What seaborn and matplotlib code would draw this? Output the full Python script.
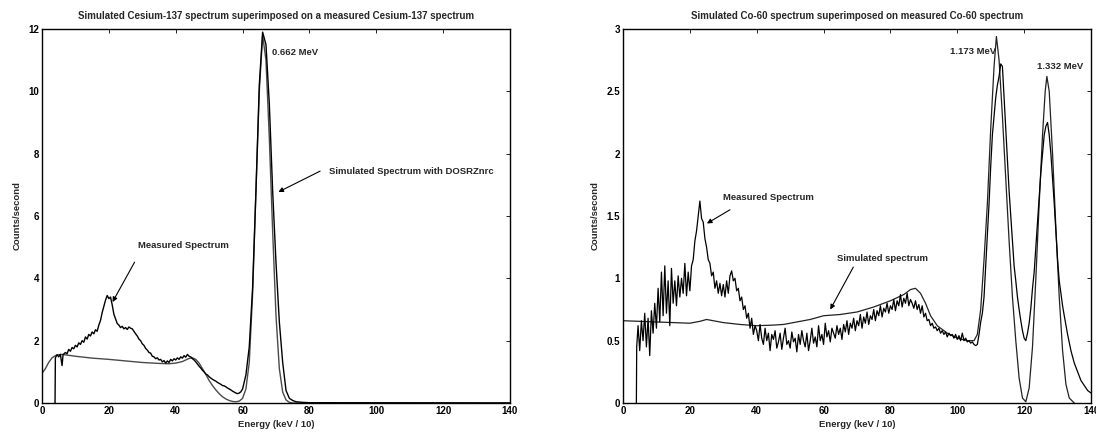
import matplotlib
matplotlib.use("Agg")
import matplotlib.pyplot as plt
from matplotlib.ticker import FuncFormatter
import seaborn as sns

# ---------------- Cs-137 data ----------------
cs_meas_e = [3.9, 4.0, 4.5, 5.0, 5.5, 6.0, 6.3, 7.0, 7.5, 8.0, 8.5, 9.0, 9.5, 10.0, 10.5, 11.0, 11.5,
             12.0, 12.5, 13.0, 13.5, 14.0, 14.5, 15.0, 15.5, 16.0, 16.5, 17.0, 17.5, 18.0, 18.5, 19.0,
             19.5, 20.0, 20.5, 21.0, 21.5, 22.0, 22.5, 23.0, 23.5, 24.0, 24.5, 25.0, 25.5, 26.0, 26.5,
             27.0, 27.5, 28.0, 28.5, 29.0, 29.5, 30.0, 30.5, 31.0, 31.5, 32.0, 32.5, 33.0, 33.5, 34.0,
             34.5, 35.0, 35.5, 36.0, 36.5, 37.0, 37.5, 38.0, 38.5, 39.0, 39.5, 40.0, 40.5, 41.0, 41.5,
             42.0, 42.5, 43.0, 43.5, 44.0, 44.5, 45.0, 45.5, 46.0, 46.5, 47.0, 47.5, 48.0, 48.5, 49.0,
             49.5, 50.0, 50.5, 51.0, 51.5, 52.0, 52.5, 53.0, 53.5, 54.0, 54.5, 55.0, 55.5, 56.0, 56.5,
             57.0, 57.5, 58.0, 58.5, 59.0, 59.5, 60.0, 61.0, 62.0, 63.0, 64.0, 65.0, 66.0, 67.0, 68.0,
             69.0, 70.0, 71.0, 72.0, 73.0, 74.0, 75.0, 76.0, 78.0, 80.0, 140.0]
cs_meas_c = [0.0, 1.45, 1.55, 1.48, 1.56, 1.2, 1.55, 1.62, 1.58, 1.72, 1.66, 1.78, 1.74, 1.85, 1.8, 1.93, 1.88,
             2.0, 1.95, 2.12, 2.05, 2.2, 2.15, 2.28, 2.22, 2.35, 2.3, 2.5, 2.65, 2.9, 3.1, 3.3,
             3.45, 3.35, 3.4, 3.15, 2.85, 2.7, 2.55, 2.5, 2.42, 2.46, 2.38, 2.42, 2.36, 2.44, 2.4,
             2.38, 2.3, 2.22, 2.15, 2.05, 2.0, 1.9, 1.85, 1.75, 1.7, 1.62, 1.6, 1.5, 1.48, 1.42,
             1.45, 1.38, 1.4, 1.32, 1.36, 1.28, 1.35, 1.3, 1.4, 1.35, 1.42, 1.38, 1.45, 1.4, 1.48,
             1.44, 1.52, 1.47, 1.56, 1.5, 1.48, 1.42, 1.38, 1.32, 1.25, 1.18, 1.12, 1.05, 1.0, 0.93,
             0.9, 0.84, 0.8, 0.76, 0.73, 0.7, 0.66, 0.63, 0.6, 0.56, 0.55, 0.52, 0.48, 0.45, 0.42,
             0.38, 0.35, 0.32, 0.3, 0.32, 0.36, 0.45, 0.9, 1.8, 3.7, 6.8, 10.2, 11.9, 11.5, 9.6,
             6.8, 4.5, 2.6, 1.3, 0.4, 0.15, 0.08, 0.04, 0.02, 0.01, 0.0]

cs_sim_e = [0, 1, 2, 3, 4, 5, 6, 8, 10, 15, 20, 25, 30, 35, 38, 40, 42, 44, 45, 46, 47, 48, 49, 50,
            51, 52, 53, 54, 55, 56, 57, 58, 59, 60, 61, 62, 63, 64, 65, 66, 67, 68, 69, 70, 71, 72,
            73, 74, 75, 140]
cs_sim_c = [0.95, 1.1, 1.3, 1.45, 1.52, 1.55, 1.56, 1.53, 1.5, 1.44, 1.4, 1.35, 1.3, 1.27, 1.26, 1.28,
            1.33, 1.43, 1.45, 1.4, 1.28, 1.1, 0.92, 0.72, 0.56, 0.42, 0.3, 0.2, 0.13, 0.08, 0.05, 0.04,
            0.06, 0.15, 0.45, 1.3, 3.5, 6.8, 10.0, 11.8, 11.0, 8.5, 5.5, 2.8, 1.1, 0.35, 0.1, 0.02, 0.0, 0.0]

# ---------------- Co-60 data ----------------
co_meas_e = [4.0, 4.1,
             4.5, 5.0, 5.5, 6.0, 6.5, 7.0, 7.5, 8.0, 8.5, 9.0,
             9.5, 10.0, 10.5, 11.0, 11.5, 12.0, 12.5, 13.0, 13.5, 14.0,
             14.5, 15.0, 15.5, 16.0, 16.5, 17.0, 17.5, 18.0, 18.5, 19.0,
             19.5, 20.0, 20.5, 21.0, 21.5, 22.0, 22.5, 23.0, 23.5, 24.0,
             24.5, 25.0, 25.5, 26.0, 26.5, 27.0, 27.5, 28.0, 28.5, 29.0,
             29.5, 30.0, 30.5, 31.0, 31.5, 32.0, 32.5, 33.0, 33.5, 34.0,
             34.5, 35.0, 35.5, 36.0, 36.5, 37.0, 37.5,
             38.0, 38.5, 39.0, 39.5, 40.0, 40.5, 41.0, 41.5, 42.0, 42.5,
             43.0, 43.5, 44.0, 44.5, 45.0, 45.5, 46.0, 46.5, 47.0, 47.5,
             48.0, 48.5, 49.0, 49.5, 50.0, 50.5, 51.0, 51.5, 52.0, 52.5,
             53.0, 53.5, 54.0, 54.5, 55.0, 55.5, 56.0, 56.5, 57.0, 57.5,
             58.0, 58.5, 59.0, 59.5, 60.0, 60.5, 61.0, 61.5, 62.0, 62.5,
             63.0, 63.5, 64.0, 64.5, 65.0, 65.5, 66.0, 66.5, 67.0, 67.5,
             68.0, 68.5, 69.0, 69.5, 70.0, 70.5, 71.0, 71.5, 72.0, 72.5,
             73.0, 73.5, 74.0, 74.5, 75.0, 75.5, 76.0, 76.5, 77.0, 77.5,
             78.0, 78.5, 79.0, 79.5, 80.0, 80.5, 81.0, 81.5, 82.0, 82.5,
             83.0, 83.5, 84.0, 84.5, 85.0, 85.5, 86.0, 86.5, 87.0, 87.5,
             88.0, 88.5, 89.0, 89.5, 90.0,
             90.5, 91.0, 91.5, 92.0, 92.5, 93.0, 93.5, 94.0, 94.5, 95.0,
             95.5, 96.0, 96.5, 97.0, 97.5, 98.0, 98.5, 99.0, 99.5, 100.0,
             100.5, 101.0, 101.5, 102.0, 102.5, 103.0, 103.5, 104.0, 104.5, 105.0,
             105.5, 106.0,
             106.5, 107.0, 107.5, 108.0, 108.5, 109.0, 109.5, 110.0, 110.5, 111.0,
             111.5, 112.0, 112.5, 113.0, 113.5, 114.0, 114.5, 115.0, 115.5, 116.0,
             116.5, 117.0, 117.5, 118.0, 118.5, 119.0, 119.5, 120.0, 120.5, 121.0,
             121.5, 122.0, 122.5, 123.0, 123.5, 124.0, 124.5, 125.0, 125.5, 126.0,
             126.5, 127.0, 127.5, 128.0, 128.5, 129.0, 129.5, 130.0, 130.5, 131.0,
             131.5, 132.0,
             133.0, 134.0, 135.0, 136.0, 137.0, 138.0, 139.0, 140.0]
co_meas_c = [0.0, 0.45,
             0.62, 0.42, 0.66, 0.5, 0.72, 0.45, 0.68, 0.38, 0.74, 0.56,
             0.8, 0.6, 0.92, 0.65, 1.05, 0.7, 1.1, 0.72, 0.98, 0.62,
             1.08, 0.8, 0.98, 0.78, 1.02, 0.85, 1.0, 0.88, 1.12, 0.86,
             1.05, 0.9, 1.1, 1.15, 1.3, 1.38, 1.5, 1.62, 1.48, 1.45,
             1.32, 1.25, 1.15, 1.12, 1.02, 1.05, 0.92, 0.98, 0.88, 0.96,
             0.86, 0.95, 0.85, 0.98, 0.88, 1.02, 1.06, 0.98, 1.0, 0.9,
             0.92, 0.82, 0.85, 0.75, 0.78, 0.68, 0.72,
             0.6, 0.68, 0.55, 0.62, 0.58, 0.5, 0.63, 0.52, 0.47, 0.6,
             0.5, 0.56, 0.42, 0.55, 0.51, 0.58, 0.44, 0.49, 0.56, 0.43,
             0.52, 0.6, 0.47, 0.5, 0.44, 0.57, 0.49, 0.52, 0.41, 0.55,
             0.47, 0.58, 0.5, 0.45, 0.56, 0.42, 0.5, 0.6, 0.48, 0.53,
             0.45, 0.62, 0.5, 0.55, 0.47, 0.64, 0.53, 0.58, 0.49, 0.6,
             0.56, 0.52, 0.62, 0.55, 0.6, 0.51, 0.63, 0.57, 0.66, 0.55,
             0.64, 0.6, 0.68, 0.58, 0.66, 0.62, 0.71, 0.6, 0.69, 0.64,
             0.73, 0.63, 0.7, 0.67, 0.75, 0.66, 0.74, 0.7, 0.78, 0.69,
             0.76, 0.73, 0.8, 0.72, 0.78, 0.75, 0.83, 0.74, 0.82, 0.78,
             0.87, 0.77, 0.84, 0.8, 0.88, 0.78, 0.83, 0.8, 0.76, 0.82,
             0.75, 0.79, 0.72, 0.78, 0.69,
             0.72, 0.66, 0.67, 0.62, 0.64, 0.6, 0.61, 0.58, 0.6, 0.56,
             0.58, 0.55, 0.57, 0.53, 0.56, 0.54, 0.55, 0.52, 0.55, 0.51,
             0.54, 0.5, 0.56, 0.5, 0.52, 0.49, 0.5, 0.48, 0.49, 0.47,
             0.46, 0.47,
             0.55, 0.65, 0.72, 0.85, 1.1, 1.35, 1.6, 1.9, 2.15, 2.3,
             2.45, 2.55, 2.62, 2.72, 2.7, 2.45, 2.2, 1.95, 1.7, 1.5,
             1.3, 1.1, 0.98, 0.85, 0.75, 0.66, 0.58, 0.52, 0.5, 0.56,
             0.64, 0.76, 0.92, 1.05, 1.25, 1.45, 1.65, 1.85, 2.0, 2.15,
             2.22, 2.25, 2.15, 2.0, 1.8, 1.6, 1.38, 1.15, 0.98, 0.88,
             0.78, 0.7,
             0.55, 0.42, 0.32, 0.25, 0.18, 0.14, 0.1, 0.08]

co_sim_e = [0, 5, 10, 15, 20, 23, 25, 27, 30, 35, 40, 45, 48, 52, 56, 60, 65, 70, 75, 80, 84, 86, 87.5,
            89, 90.5, 92, 94, 97, 100, 103, 105, 106, 107, 108, 109, 110, 111, 111.7, 112.5, 113.5,
            114.5, 115.5, 116.5, 117.5, 118.5, 119.5, 120.5, 121.5, 122.5, 123.5, 124.5, 125.5, 126.3,
            126.8, 127.5, 128.5, 129.5, 130.5, 131.5, 132.5, 133.5, 135.0]
co_sim_c = [0.66, 0.655, 0.65, 0.645, 0.64, 0.655, 0.67, 0.66, 0.645, 0.63, 0.62, 0.625, 0.63, 0.65, 0.67,
            0.7, 0.71, 0.73, 0.77, 0.82, 0.87, 0.91, 0.92, 0.88, 0.8, 0.7, 0.62, 0.56, 0.52, 0.5, 0.5,
            0.55, 0.75, 1.15, 1.6, 2.2, 2.7, 2.94, 2.75, 2.3, 1.8, 1.3, 0.85, 0.5, 0.2, 0.04, 0.01,
            0.12, 0.45, 1.0, 1.6, 2.15, 2.5, 2.62, 2.5, 2.0, 1.4, 0.85, 0.42, 0.15, 0.04, 0.0]

cs_yticks = [0, 2, 4, 6, 8, 10, 12]
co_yticks = [0, 0.5, 1, 1.5, 2, 2.5, 3]
x_ticks = [0, 20, 40, 60, 80, 100, 120, 140]

sns.set_style("white")
plt.rcParams['font.family'] = ['Liberation Sans', 'DejaVu Sans']
plt.rcParams['font.weight'] = 'bold'

W, H = 1096, 440
fig = plt.figure(figsize=(W / 100, H / 100), dpi=100)
fig.patch.set_facecolor('white')

ax1 = fig.add_axes([42 / W, 1 - 403 / H, 468 / W, 374 / H])
ax2 = fig.add_axes([623 / W, 1 - 403 / H, 468 / W, 374 / H])

fmt = FuncFormatter(lambda v, p: ('%g' % v))

sns.lineplot(x=cs_sim_e, y=cs_sim_c, ax=ax1, estimator=None, sort=False, color='#4a4a4a', lw=1.0)
sns.lineplot(x=cs_meas_e, y=cs_meas_c, ax=ax1, estimator=None, sort=False, color='black', lw=1.0)
sns.lineplot(x=co_sim_e, y=co_sim_c, ax=ax2, estimator=None, sort=False, color='#222222', lw=0.9)
sns.lineplot(x=co_meas_e, y=co_meas_c, ax=ax2, estimator=None, sort=False, color='black', lw=0.9)

for ax, yt, ymax in [(ax1, cs_yticks, 12), (ax2, co_yticks, 3)]:
    ax.set_xlim(0, 140)
    ax.set_ylim(0, ymax)
    ax.set_xticks(x_ticks)
    ax.set_yticks(yt)
    ax.xaxis.set_major_formatter(fmt)
    ax.yaxis.set_major_formatter(fmt)
    ax.tick_params(direction='in', length=3, width=0.6, top=True, right=True,
                   labelsize=7, pad=2, colors='black')
    for s in ax.spines.values():
        s.set_visible(True)
        s.set_color('black')
        s.set_linewidth(1.0)
    ax.set_xlabel('Energy (keV / 10)', fontsize=6.8, fontweight='bold', labelpad=3)
    ax.set_ylabel('Counts/second', fontsize=6.8, fontweight='bold', labelpad=5)
    ax.set_facecolor('white')
    ax.grid(False)

ax1.set_title('Simulated Cesium-137 spectrum superimposed on a measured Cesium-137 spectrum',
              fontsize=7, fontweight='bold', pad=7)
ax2.set_title('Simulated Co-60 spectrum superimposed on measured Co-60 spectrum',
              fontsize=7, fontweight='bold', pad=7)

arrow = dict(arrowstyle='-|>', color='black', lw=0.8, mutation_scale=7, shrinkA=0, shrinkB=0)
tk = dict(fontsize=6.8, fontweight='bold', va='center')

ax1.text(68.9, 11.26, '0.662 MeV', ha='left', **tk)
ax1.annotate('', xy=(70.7, 6.77), xytext=(83.2, 7.44), arrowprops=arrow)
ax1.text(85.9, 7.44, 'Simulated Spectrum with DOSRZnrc', ha='left', **tk)
ax1.annotate('', xy=(21.1, 3.24), xytext=(27.7, 4.52), arrowprops=arrow)
ax1.text(28.7, 5.04, 'Measured Spectrum', ha='left', **tk)

ax2.text(97.9, 2.82, '1.173 MeV', ha='left', **tk)
ax2.text(123.7, 2.70, '1.332 MeV', ha='left', **tk)
ax2.annotate('', xy=(25.1, 1.44), xytext=(32.0, 1.55), arrowprops=arrow)
ax2.text(29.9, 1.65, 'Measured Spectrum', ha='left', **tk)
ax2.annotate('', xy=(62.0, 0.75), xytext=(68.9, 1.09), arrowprops=arrow)
ax2.text(64.0, 1.16, 'Simulated spectrum', ha='left', **tk)

fig.savefig('out.png', dpi=100, facecolor='white')
